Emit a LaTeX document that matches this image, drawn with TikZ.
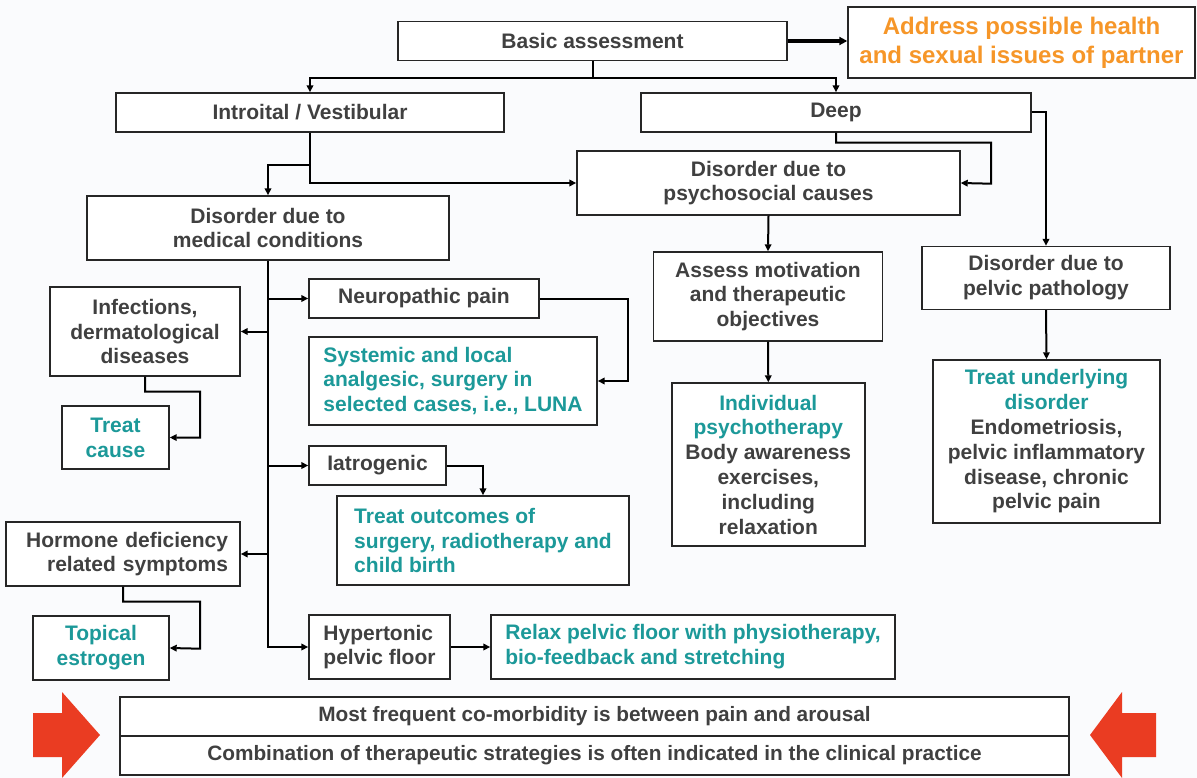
\documentclass[tikz,border=0pt]{standalone}
\usepackage{fontspec}
\setmainfont{Liberation Sans}
\usepackage{tikz}
\usetikzlibrary{arrows.meta}
\definecolor{TxtGray}{RGB}{64,64,64}
\definecolor{TealC}{RGB}{28,153,153}
\definecolor{OrangeC}{RGB}{246,150,40}
\definecolor{RedC}{RGB}{234,60,34}
\definecolor{BgC}{RGB}{250,251,253}
\tikzset{
  box/.style={draw=black!85,fill=white,line width=1.4pt,inner sep=0pt,
              font=\fontsize{21}{24.8}\selectfont\bfseries,text=TxtGray,align=center},
  tbox/.style={box,text=TealC},
  lbox/.style={box,align=left},
  conn/.style={-{Triangle[length=7pt,width=6.5pt]},line width=2pt,black},
  fat/.style={-{Triangle[length=8pt,width=8pt]},line width=3.5pt,black},
}

\begin{document}
\begin{tikzpicture}[x=1pt,y=-1pt]
  \useasboundingbox (0,0) rectangle (1197,778);
  \fill[BgC] (0,0) rectangle (1197,778);

  % top level
  \node[box,minimum width=389pt,minimum height=39pt] (basic) at (592.5,41) {Basic assessment};
  \node[box,minimum width=347pt,minimum height=71pt,text=OrangeC,
        font=\fontsize{24}{29}\selectfont\bfseries] (address) at (1021.5,42.5)
        {Address possible health\\and sexual issues of partner};
  \node[box,minimum width=388pt,minimum height=39pt] (intro) at (310,112.5) {Introital / Vestibular};
  \node[box,minimum width=390pt,minimum height=39pt] (deep) at (836,112.5) {Deep};
  \node[box,minimum width=383pt,minimum height=64pt] (psycho) at (768.5,183) {Disorder due to\\psychosocial causes};
  \node[box,minimum width=362pt,minimum height=64pt] (med) at (268,228) {Disorder due to\\medical conditions};

  % medical branch
  \node[box,minimum width=190pt,minimum height=89pt] (infect) at (145,331.5) {Infections,\\dermatological\\diseases};
  \node[tbox,minimum width=107pt,minimum height=63pt] (treatc) at (115.5,437.5) {Treat\\cause};
  \node[box,minimum width=230pt,minimum height=39pt] (neuro) at (424,298.5) {Neuropathic pain};
  \node[lbox,text=TealC,minimum width=288pt,minimum height=88pt] (syst) at (453,381)
        {Systemic and local\\analgesic, surgery in\\selected cases, i.e., LUNA};
  \node[lbox,minimum width=137pt,minimum height=39pt] (iatro) at (377.5,465.5) {Iatrogenic};
  \node[lbox,text=TealC,minimum width=292pt,minimum height=89pt] (outc) at (483,540.5)
        {Treat outcomes of\\surgery, radiotherapy and\\child birth};
  \node[box,align=right,inner xsep=12pt,text width=210pt,minimum height=64pt] (hormone) at (123,554)
        {Hormone deficiency\\related symptoms};
  \node[tbox,minimum width=136pt,minimum height=64pt] (topical) at (101,648) {Topical\\estrogen};
  \node[lbox,minimum width=141pt,minimum height=64pt] (hyper) at (379.5,647) {Hypertonic\\pelvic floor};
  \node[lbox,text=TealC,minimum width=404pt,minimum height=64pt] (relax) at (693,647)
        {Relax pelvic floor with physiotherapy,\\bio-feedback and stretching};

  % psychosocial and pelvic branches
  \node[box,minimum width=229pt,minimum height=89pt] (assess) at (768,296.5)
        {Assess motivation\\and therapeutic\\objectives};
  \node[box,minimum width=193pt,minimum height=163pt] (indiv) at (768.3,464.5)
        {\textcolor{TealC}{Individual}\\\textcolor{TealC}{psychotherapy}\\Body awareness\\exercises,\\including\\relaxation};
  \node[box,minimum width=248pt,minimum height=63pt] (pelvic) at (1046,278) {Disorder due to\\pelvic pathology};
  \node[box,minimum width=227pt,minimum height=163pt] (treatund) at (1046.5,441.5)
        {\textcolor{TealC}{Treat underlying}\\\textcolor{TealC}{disorder}\\Endometriosis,\\pelvic inflammatory\\disease, chronic\\pelvic pain};

  % bottom summary
  \node[box,minimum width=949pt,minimum height=39pt,font=\fontsize{20.8}{24}\selectfont\bfseries] (bot1) at (594.5,716.5)
        {Most frequent co-morbidity is between pain and arousal};
  \node[box,minimum width=949pt,minimum height=39pt,font=\fontsize{20.8}{24}\selectfont\bfseries] (bot2) at (594.5,755.5)
        {Combination of therapeutic strategies is often indicated in the clinical practice};
  \fill[RedC] (33,713) -- (62,713) -- (62,692) -- (100,735) -- (62,778) -- (62,757) -- (33,757) -- cycle;
  \fill[RedC] (1156,713) -- (1122,713) -- (1122,692) -- (1090,735) -- (1122,778) -- (1122,757) -- (1156,757) -- cycle;

  % connectors
  \draw[fat] (basic.east) -- (address.west |- basic.east);
  \draw[conn] (basic.south) -- ++(0,17) coordinate (bj) -| (intro.north);
  \draw[conn] (bj) -| (deep.north);
  \draw[conn] (intro.south) |- (psycho.west);
  \draw[conn] (intro.south) ++(0,32) -| (med.north);
  \draw[conn] (deep.south) -- ++(0,10) -| ++(155,41) -- (psycho.east);
  \draw[conn] (deep.east) -| (pelvic.north);
  \draw[conn] (psycho.south) -- (assess.north);
  \draw[conn] (assess.south) -- (indiv.north);
  \draw[conn] (pelvic.south) -- (treatund.north);
  \draw[conn] (med.south) |- (hyper.west);
  \draw[conn] (med.south |- neuro.west) -- (neuro.west);
  \draw[conn] (med.south |- infect.east) -- (infect.east);
  \draw[conn] (med.south |- iatro.west) -- (iatro.west);
  \draw[conn] (med.south |- hormone.east) -- (hormone.east);
  \draw[conn] (neuro.east) -- ++(88,0) |- (syst.east);
  \draw[conn] (infect.south) -- ++(0,15) -| ++(55,46) -- (treatc.east);
  \draw[conn] (iatro.east) -| (outc.north);
  \draw[conn] (hormone.south) -- ++(0,15) -| ++(77,47) -- (topical.east);
  \draw[conn] (hyper.east) -- (relax.west);
\end{tikzpicture}
\end{document}
